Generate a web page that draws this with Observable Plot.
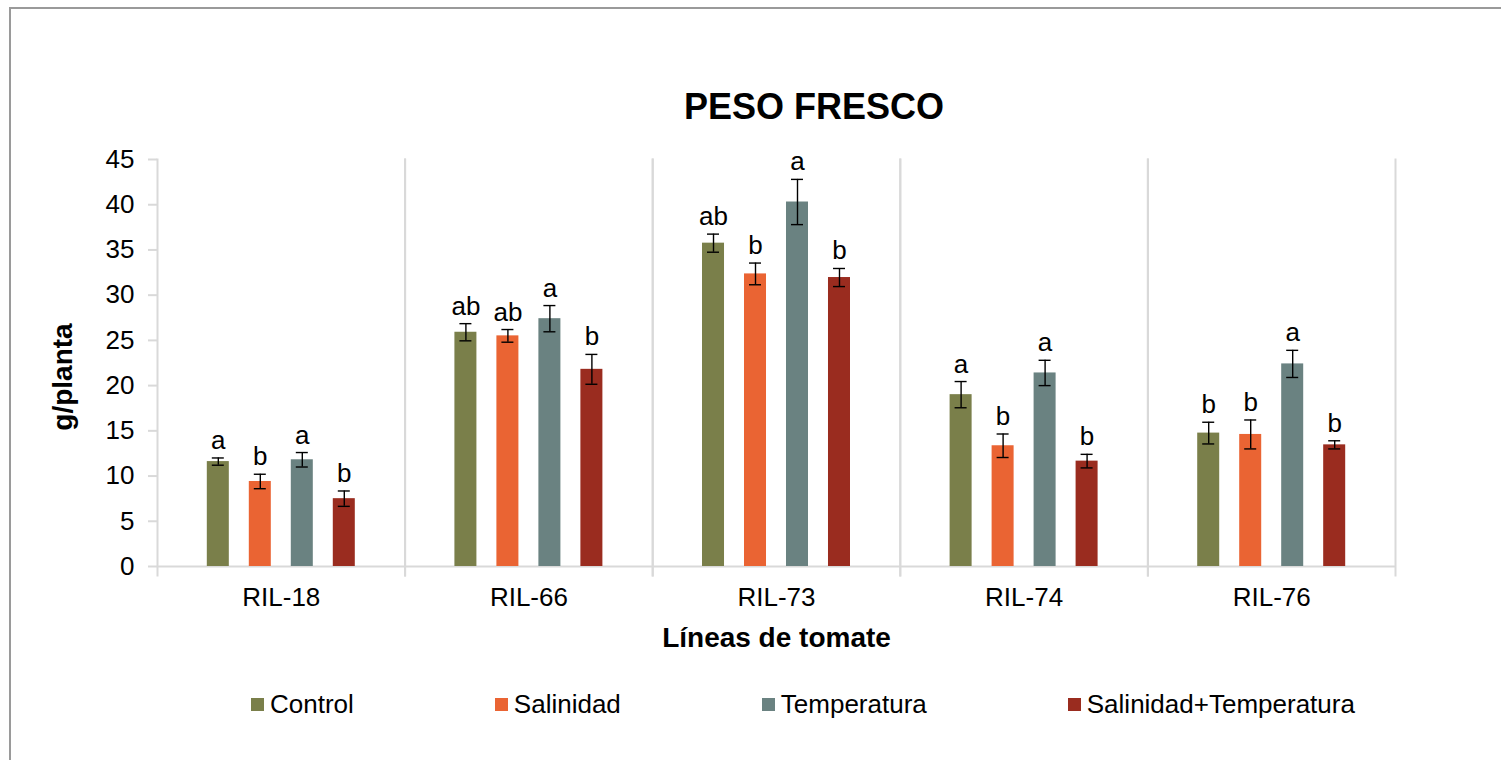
<!DOCTYPE html>
<html><head><meta charset="utf-8">
<script src="https://cdn.jsdelivr.net/npm/d3@7"></script>
<script src="https://cdn.jsdelivr.net/npm/@observablehq/plot@0.6"></script>
<style>
html,body{margin:0;padding:0;background:#fff;overflow:hidden;width:1501px;height:760px;font-family:"Liberation Sans",Arial,sans-serif;}
#frame{position:absolute;left:9px;top:7px;width:1600px;height:800px;border-top:2px solid #9a9a9a;border-left:2px solid #9a9a9a;}
#title{position:absolute;left:0;width:1628px;top:89px;text-align:center;font-size:36px;line-height:36px;font-weight:bold;color:#000;}
#chart{position:absolute;left:0;top:140px;}
#legend{position:absolute;left:251px;top:691px;display:flex;gap:141px;font-size:26px;line-height:26px;color:#000;}
.item{display:flex;align-items:center;gap:6px;}
.sw{width:13px;height:13px;}
svg [aria-label="y-axis label"], svg [aria-label="fx-axis label"]{font-weight:bold;font-size:28px;}
svg [aria-label="y-axis label"]{translate:0px 14px;}
</style>
</head><body>
<div id="frame"></div>
<div id="title">PESO FRESCO</div>
<div id="chart"></div>
<div id="legend"></div>
<script>
const groups = ["RIL-18","RIL-66","RIL-73","RIL-74","RIL-76"];
const treatments = ["Control","Salinidad","Temperatura","Salinidad+Temperatura"];
const colors = ["#7a7f4a","#ea6433","#6a8281","#9a2c1f"];
const yTicks = [0,5,10,15,20,25,30,35,40,45];

const controlVals = [11.6, 25.9, 35.75, 19.0, 14.75];
const controlErr  = [0.4, 0.95, 1.0, 1.45, 1.2];
const controlLet  = ["a","ab","ab","a","b"];
const salVals = [9.4, 25.5, 32.35, 13.35, 14.6];
const salErr  = [0.8, 0.7, 1.2, 1.3, 1.6];
const salLet  = ["b","ab","b","b","b"];
const tempVals = [11.8, 27.4, 40.3, 21.4, 22.4];
const tempErr  = [0.8, 1.45, 2.5, 1.4, 1.5];
const tempLet  = ["a","a","a","a","a"];
const stVals = [7.5, 21.8, 31.95, 11.65, 13.45];
const stErr  = [0.85, 1.65, 1.0, 0.75, 0.45];
const stLet  = ["b","b","b","b","b"];

const series = [
  [controlVals, controlErr, controlLet],
  [salVals, salErr, salLet],
  [tempVals, tempErr, tempLet],
  [stVals, stErr, stLet]
];
const rows = [];
groups.forEach((g, i) => {
  treatments.forEach((t, j) => {
    const [v, e, l] = series[j];
    rows.push({group: g, treatment: t, value: v[i], err: e[i], letter: l[i]});
  });
});

const grid = "#d9d9d9";
const chart = Plot.plot({
  width: 1501, height: 520,
  marginTop: 19, marginBottom: 94, marginLeft: 157, marginRight: 106,
  style: {fontFamily: "'Liberation Sans', Arial, sans-serif", fontSize: "26px", color: "#000", background: "transparent", overflow: "visible"},
  fx: {domain: groups, padding: 0, round: false},
  x: {domain: treatments, paddingInner: 0.476, paddingOuter: 1.186, round: false, axis: null},
  y: {domain: [0, 45]},
  color: {domain: treatments, range: colors},
  marks: [
    Plot.frame({anchor: "left", stroke: grid, strokeWidth: 2, insetBottom: -9}),
    Plot.frame({anchor: "right", stroke: grid, strokeWidth: 2, insetBottom: -9}),
    Plot.ruleY([0], {stroke: grid, strokeWidth: 2}),
    Plot.barY(rows, {fx: "group", x: "treatment", y: "value", fill: "treatment"}),
    Plot.ruleX(rows, {fx: "group", x: "treatment", y1: d => d.value - d.err, y2: d => d.value + d.err, stroke: "#000", strokeWidth: 1.4}),
    Plot.tickY(rows, {fx: "group", x: "treatment", y: d => d.value + d.err, insetLeft: 5, insetRight: 5, stroke: "#000", strokeWidth: 1.4}),
    Plot.tickY(rows, {fx: "group", x: "treatment", y: d => d.value - d.err, insetLeft: 5, insetRight: 5, stroke: "#000", strokeWidth: 1.4}),
    Plot.text(rows, {fx: "group", x: "treatment", y: d => d.value + d.err, text: "letter", dy: -9, lineAnchor: "bottom", fontSize: 26, fill: "#000"}),
    Plot.axisY({ticks: yTicks, tickSize: 9, tickPadding: 14, stroke: grid, strokeWidth: 2, fill: "#000", fontSize: 26, label: "g/planta", labelAnchor: "center", labelOffset: 105, labelArrow: "none"}),
    Plot.axisFx({anchor: "bottom", tickSize: 0, tickPadding: 21, fontSize: 26, fill: "#000", label: "Líneas de tomate", labelAnchor: "center", labelOffset: 80, labelArrow: "none"})
  ]
});
document.getElementById("chart").appendChild(chart);

const legend = document.getElementById("legend");
treatments.forEach((t, j) => {
  const item = document.createElement("div");
  item.className = "item";
  const sw = document.createElement("div");
  sw.className = "sw";
  sw.style.background = colors[j];
  const lab = document.createElement("span");
  lab.textContent = t;
  item.appendChild(sw); item.appendChild(lab);
  legend.appendChild(item);
});
</script>
</body></html>
